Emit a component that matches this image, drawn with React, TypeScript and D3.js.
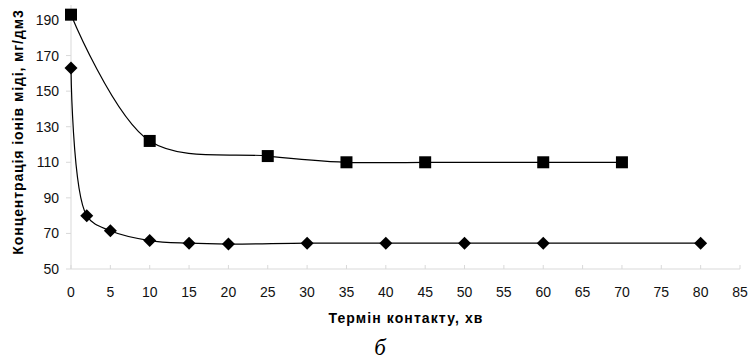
import React from "react";
import * as d3 from "d3";

const squareX = [0, 10, 25, 35, 45, 60, 70];
const squareY = [193, 122, 113.5, 110, 110, 110, 110];
const diamondX = [0, 2, 5, 10, 15, 20, 30, 40, 50, 60, 80];
const diamondY = [163, 80, 71.5, 66, 64.5, 64, 64.5, 64.5, 64.5, 64.5, 64.5];
const xTicks = [0, 5, 10, 15, 20, 25, 30, 35, 40, 45, 50, 55, 60, 65, 70, 75, 80, 85];
const yTicks = [50, 70, 90, 110, 130, 150, 170, 190];
const yTitle = "Концентрація іонів міді, мг/дм3";
const xTitle = "Термін контакту, хв";
const caption = "б";

export default function App() {
  const W = 750, H = 363;
  const x = d3.scaleLinear().domain([0, 85]).range([71, 740]);
  const y = d3.scaleLinear().domain([50, 190]).range([269, 20]);
  const line = d3
    .line<[number, number]>()
    .x((d) => x(d[0]))
    .y((d) => y(d[1]))
    .curve(d3.curveCatmullRom.alpha(0.5));
  const sq = squareX.map((v, i) => [v, squareY[i]] as [number, number]);
  const di = diamondX.map((v, i) => [v, diamondY[i]] as [number, number]);
  const font = "Liberation Sans, Arial, sans-serif";
  const axisColor = "#d9d9d9";
  return (
    <svg
      width={W}
      height={H}
      style={{ position: "absolute", left: 0, top: 0, background: "#fff" }}
    >
      {/* axes */}
      <line x1={x(0)} x2={x(0)} y1={5} y2={y(50)} stroke={axisColor} />
      <line x1={x(0)} x2={x(85)} y1={y(50)} y2={y(50)} stroke={axisColor} />
      {yTicks.map((t) => (
        <g key={"y" + t}>
          <line x1={x(0) - 5} x2={x(0)} y1={y(t)} y2={y(t)} stroke={axisColor} />
          <text
            x={59}
            y={y(t) + 5}
            textAnchor="end"
            fontFamily={font}
            fontSize={14}
            fill="#111"
          >
            {t}
          </text>
        </g>
      ))}
      {xTicks.map((t) => (
        <g key={"x" + t}>
          <line x1={x(t)} x2={x(t)} y1={y(50) - 4} y2={y(50)} stroke={axisColor} />
          <text
            x={x(t)}
            y={297}
            textAnchor="middle"
            fontFamily={font}
            fontSize={14}
            fill="#111"
          >
            {t}
          </text>
        </g>
      ))}
      {/* lines */}
      <path d={line(sq) || ""} fill="none" stroke="#000" strokeWidth={1.2} />
      <path d={line(di) || ""} fill="none" stroke="#000" strokeWidth={1.2} />
      {/* markers */}
      {sq.map((d, i) => (
        <rect
          key={"s" + i}
          x={x(d[0]) - 6}
          y={y(d[1]) - 6}
          width={12}
          height={12}
          fill="#000"
        />
      ))}
      {di.map((d, i) => {
        const cx = x(d[0]);
        const cy = y(d[1]);
        const r = 6.5;
        return (
          <path
            key={"d" + i}
            d={`M${cx},${cy - r}L${cx + r},${cy}L${cx},${cy + r}L${cx - r},${cy}Z`}
            fill="#000"
          />
        );
      })}
      {/* titles */}
      <text
        x={406}
        y={323}
        textAnchor="middle"
        fontFamily={font}
        fontWeight="bold"
        fontSize={14}
        letterSpacing={1.1}
        fill="#000"
      >
        {xTitle}
      </text>
      <text
        transform={`translate(22.5,${132}) rotate(-90)`}
        textAnchor="middle"
        fontFamily={font}
        fontWeight="bold"
        fontSize={14}
        letterSpacing={0.9}
        fill="#000"
      >
        {yTitle}
      </text>
      <text
        x={380}
        y={355}
        textAnchor="middle"
        fontFamily="Liberation Serif, Times New Roman, serif"
        fontStyle="italic"
        fontSize={23}
        fill="#000"
      >
        {caption}
      </text>
    </svg>
  );
}
